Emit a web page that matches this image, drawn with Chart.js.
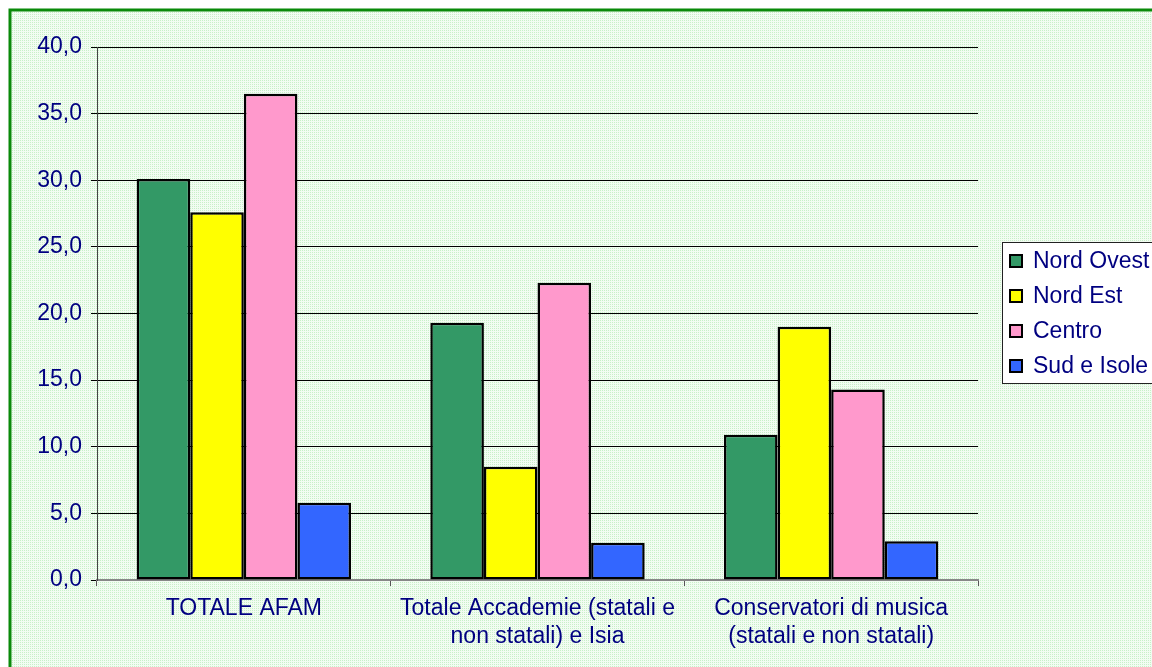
<!DOCTYPE html>
<html>
<head>
<meta charset="utf-8">
<title>AFAM per ripartizione</title>
<script src="https://cdn.jsdelivr.net/npm/chart.js@4"></script>
<style>
  body { margin: 0; background: #ffffff; }
  #chartBox { width: 1152px; height: 667px; }
</style>
</head>
<body>
<div id="chartBox"><canvas id="myChart" width="1152" height="667"></canvas></div>
<script>
// data
let categories = [
  "TOTALE AFAM",
  ["Totale Accademie (statali e", "non statali) e Isia"],
  ["Conservatori di musica", "(statali e non statali)"]
];
let seriesNames = ["Nord Ovest", "Nord Est", "Centro", "Sud e Isole"];
let nordOvest = [30.1, 19.3, 10.9];
let nordEst = [27.6, 8.5, 19.0];
let centro = [36.5, 22.3, 14.3];
let sudIsole = [5.8, 2.8, 2.9];
let seriesColors = ["#339966", "#ffff00", "#ff99cc", "#3366ff"];

let textColor = "#000080";
let fontFamily = "'Liberation Sans', Arial, sans-serif";

// dotted light green fill like the excel background
function makePattern(ctx) {
  let tile = document.createElement("canvas");
  tile.width = 4;
  tile.height = 4;
  let t = tile.getContext("2d");
  t.fillStyle = "#f2fcf2";
  t.fillRect(0, 0, 4, 4);
  t.fillStyle = "#c8f0c8";
  t.fillRect(0, 0, 1, 1);
  t.fillRect(2, 2, 1, 1);
  t.fillRect(2, 0, 1, 1);
  t.fillRect(0, 2, 1, 1);
  return ctx.createPattern(tile, "repeat");
}

let backgroundPlugin = {
  id: "background",
  beforeDraw(chart) {
    let ctx = chart.ctx;
    ctx.save();
    ctx.fillStyle = "#ffffff";
    ctx.fillRect(0, 0, chart.width, chart.height);
    ctx.fillStyle = makePattern(ctx);
    ctx.fillRect(10, 10, chart.width, chart.height);
    ctx.strokeStyle = "#0a8a0a";
    ctx.lineWidth = 3;
    ctx.strokeRect(10, 10, chart.width + 10, chart.height + 10);
    ctx.restore();
  }
};

// legend box on the right, cut by the picture edge
let legendPlugin = {
  id: "boxLegend",
  afterDraw(chart) {
    let ctx = chart.ctx;
    ctx.save();
    ctx.fillStyle = "#ffffff";
    ctx.fillRect(1002, 242, 200, 141);
    ctx.strokeStyle = "#222222";
    ctx.lineWidth = 1;
    ctx.strokeRect(1002.5, 242.5, 200, 141);
    ctx.font = "23px " + fontFamily;
    ctx.textBaseline = "middle";
    chart.data.datasets.forEach((ds, i) => {
      let y = 261 + i * 35;
      ctx.fillStyle = ds.backgroundColor;
      ctx.fillRect(1010, y - 6, 12, 12);
      ctx.strokeStyle = "#000000";
      ctx.lineWidth = 2;
      ctx.strokeRect(1010, y - 6, 12, 12);
      ctx.fillStyle = textColor;
      ctx.fillText(ds.label, 1033, y + 1);
    });
    ctx.restore();
  }
};

let seriesValues = [nordOvest, nordEst, centro, sudIsole];
let datasets = [];
for (let i = 0; i < seriesNames.length; i++) {
  datasets.push({
    label: seriesNames[i],
    data: seriesValues[i],
    backgroundColor: seriesColors[i],
    borderColor: "#000000",
    borderWidth: 2.5,
    borderSkipped: false,
    barPercentage: 1.0,
    categoryPercentage: 0.73
  });
}

let ctx = document.getElementById("myChart").getContext("2d");
let chart = new Chart(ctx, {
  type: "bar",
  data: {
    labels: categories,
    datasets: datasets
  },
  plugins: [backgroundPlugin, legendPlugin],
  options: {
    responsive: false,
    animation: false,
    devicePixelRatio: 1,
    layout: {
      padding: { left: 0, right: 174, top: 47, bottom: 0 }
    },
    plugins: {
      legend: { display: false },
      tooltip: { enabled: false }
    },
    scales: {
      x: {
        offset: true,
        grid: {
          offset: true,
          drawOnChartArea: false,
          drawTicks: true,
          tickLength: 6,
          color: "#555555"
        },
        border: { color: "#888888", width: 2 },
        ticks: {
          color: textColor,
          padding: 9,
          maxRotation: 0,
          autoSkip: false,
          font: { family: fontFamily, size: 23, lineHeight: "28px" }
        },
        afterFit(scale) {
          scale.height = 87;
        }
      },
      y: {
        min: 0,
        max: 40,
        grid: {
          color: "#000000",
          lineWidth: 1,
          tickLength: 6
        },
        border: { color: "#444444", width: 1 },
        ticks: {
          stepSize: 5,
          color: textColor,
          padding: 9,
          font: { family: fontFamily, size: 23 },
          callback: function (value) {
            return value.toFixed(1).replace(".", ",");
          }
        },
        afterFit(scale) {
          scale.width = 97;
        }
      }
    }
  }
});
</script>
</body>
</html>
